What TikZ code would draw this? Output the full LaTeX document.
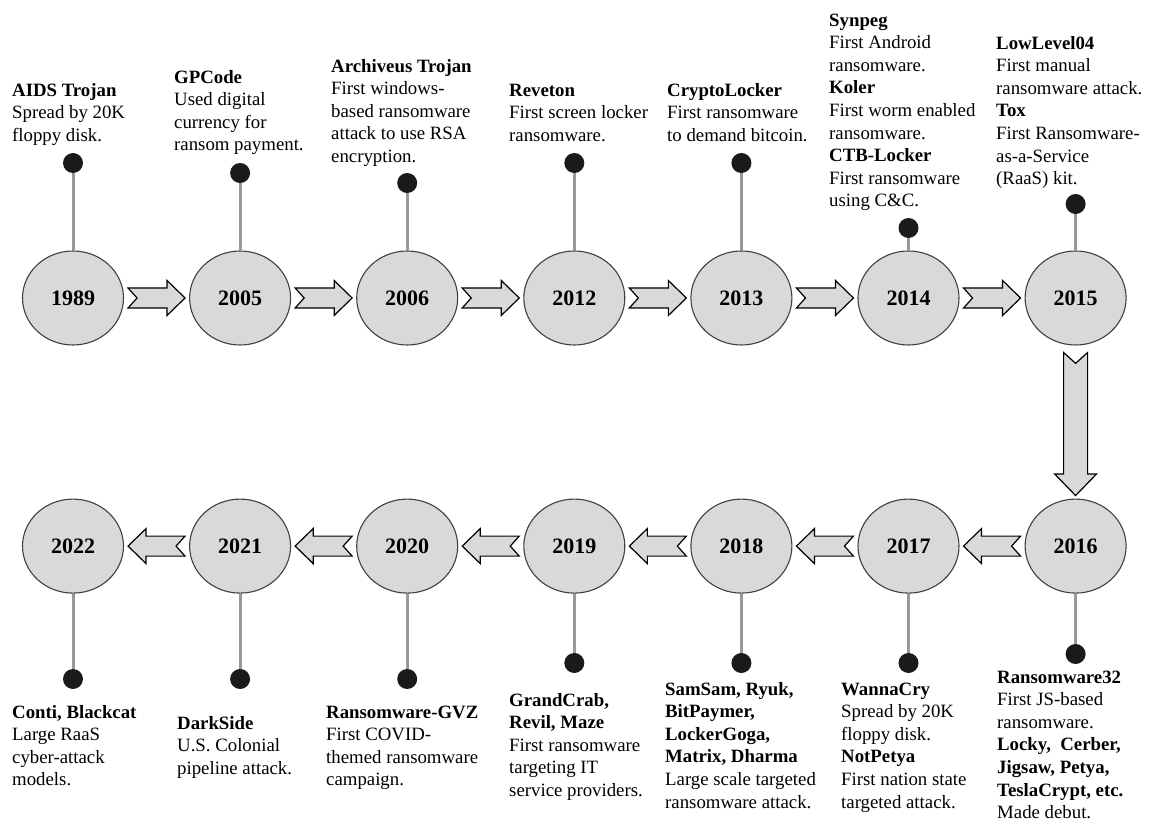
\documentclass[tikz,border=0pt]{standalone}
\usepackage{fontspec}
\setmainfont{Liberation Serif}
\usepackage{tikz}
\usetikzlibrary{positioning,calc,shapes.geometric}
\usepackage{xcolor}
\definecolor{yrfill}{RGB}{217,217,217}
\definecolor{yrdraw}{RGB}{64,64,64}
\definecolor{pingray}{RGB}{153,153,153}
\definecolor{dotblack}{RGB}{26,26,26}

\begin{document}
\begin{tikzpicture}[
  x=1pt, y=-1pt,
  year/.style={ellipse, draw=yrdraw, line width=1.1pt, fill=yrfill, minimum width=101pt, minimum height=94pt, inner sep=0pt, font=\fontsize{22}{26}\selectfont\bfseries},
  dot/.style={circle, fill=dotblack, minimum size=20pt, inner sep=0pt},
  pin/.style={draw=pingray, line width=3pt},
  note/.style={anchor=north west, align=left, inner sep=0pt, font=\fontsize{18.8}{22.6}\selectfont},
  pics/fatarr/.style 2 args={code={
    \draw[fill=yrfill, draw=black, line width=1.2pt, line join=miter]
      (0,-10*#2) -- ({#1-18*#2},-10*#2) -- ({#1-18*#2},-17.5*#2) -- (#1,0)
      -- ({#1-18*#2},17.5*#2) -- ({#1-18*#2},10*#2) -- (0,10*#2) -- (9*#2,0) -- cycle;
  }}
]
  \useasboundingbox (0,0) rectangle (1149,826);

  % top row
  \node[year] (y1989) at (73,298) {1989};
  \node[year, right=65pt of y1989] (y2005) {2005};
  \node[year, right=65pt of y2005] (y2006) {2006};
  \node[year, right=65pt of y2006] (y2012) {2012};
  \node[year, right=65pt of y2012] (y2013) {2013};
  \node[year, right=65pt of y2013] (y2014) {2014};
  \node[year, right=65pt of y2014] (y2015) {2015};
  % bottom row
  \node[year, below=153pt of y2015] (y2016) {2016};
  \node[year, left=65pt of y2016] (y2017) {2017};
  \node[year, left=65pt of y2017] (y2018) {2018};
  \node[year, left=65pt of y2018] (y2019) {2019};
  \node[year, left=65pt of y2019] (y2020) {2020};
  \node[year, left=65pt of y2020] (y2021) {2021};
  \node[year, left=65pt of y2021] (y2022) {2022};

  % block arrows
  \foreach \a in {1989,2005,2006,2012,2013,2014}
    \path ($(y\a.east)+(4,0)$) pic {fatarr={57}{1}};
  \foreach \a in {2016,2017,2018,2019,2020,2021}
    \path ($(y\a.west)+(-4,0)$) pic[rotate=180] {fatarr={57}{1}};
  \path ($(y2015.south)+(0,7)$) pic[rotate=-90] {fatarr={143}{1.2}};

  % pins
  \foreach \yr/\h in {1989/163,2005/173,2006/183,2012/163,2013/163,2014/228,2015/204,
                      2016/654,2017/663,2018/663,2019/663,2020/679,2021/679,2022/679} {
    \node[dot] (d\yr) at (y\yr |- 0,\h) {};
    \draw[pin] (y\yr) -- (d\yr);
  }

  % events (first baseline minus strut height)
  \node[note] (t1989) at (12,80) {\strut\textbf{AIDS Trojan}\\Spread by 20K\\floppy disk.};
  \node[note] (t2005) at (174,67) {\strut\textbf{GPCode}\\Used digital\\currency for\\ransom payment.};
  \node[note] (t2006) at (331,56) {\strut\textbf{Archiveus Trojan}\\First windows-\\based ransomware\\attack to use RSA\\encryption.};
  \node[note] (t2012) at (509,80) {\strut\textbf{Reveton}\\First screen locker\\ransomware.};
  \node[note] (t2013) at (667,80) {\strut\textbf{CryptoLocker}\\First ransomware\\to demand bitcoin.};
  \node[note] (t2014) at (829,10) {\strut\textbf{Synpeg}\\First Android\\ransomware.\\\textbf{Koler}\\First worm enabled\\ransomware.\\\textbf{CTB-Locker}\\First ransomware\\using C\&C.};
  \node[note] (t2015) at (996,33) {\strut\textbf{LowLevel04}\\First manual\\ransomware attack.\\\textbf{Tox}\\First Ransomware-\\as-a-Service\\(RaaS) kit.};
  \node[note] (t2016) at (997,667) {\strut\textbf{Ransomware32}\\First JS-based\\ransomware.\\\textbf{Locky,\ \ Cerber,}\\\textbf{Jigsaw, Petya,}\\\textbf{TeslaCrypt, etc.}\\Made debut.};
  \node[note] (t2017) at (841,679) {\strut\textbf{WannaCry}\\Spread by 20K\\floppy disk.\\\textbf{NotPetya}\\First nation state\\targeted attack.};
  \node[note] (t2018) at (665,679) {\strut\textbf{SamSam, Ryuk,}\\\textbf{BitPaymer,}\\\textbf{LockerGoga,}\\\textbf{Matrix, Dharma}\\Large scale targeted\\ransomware attack.};
  \node[note] (t2019) at (509,690) {\strut\textbf{GrandCrab,}\\\textbf{Revil, Maze}\\First ransomware\\targeting IT\\service providers.};
  \node[note] (t2020) at (326,702) {\strut\textbf{Ransomware-GVZ}\\First COVID-\\themed ransomware\\campaign.};
  \node[note] (t2021) at (177,713) {\strut\textbf{DarkSide}\\U.S. Colonial\\pipeline attack.};
  \node[note] (t2022) at (12,702) {\strut\textbf{Conti, Blackcat}\\Large RaaS\\cyber-attack\\models.};
\end{tikzpicture}
\end{document}
